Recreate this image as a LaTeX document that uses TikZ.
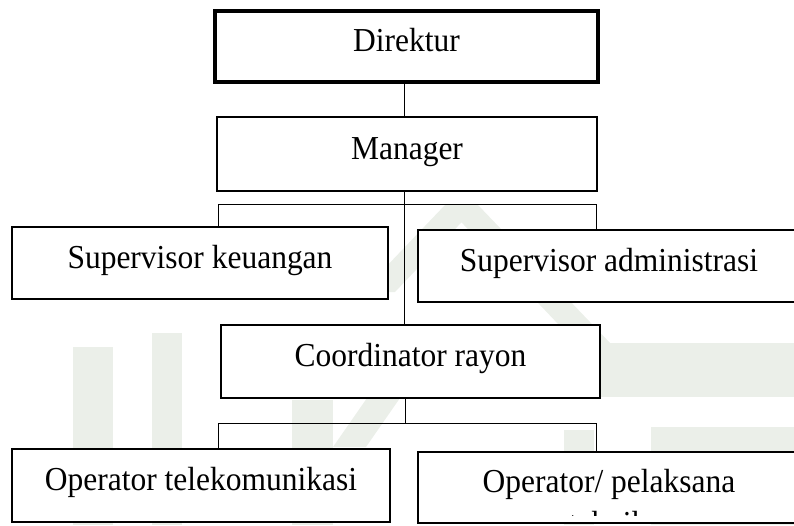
\documentclass[tikz,border=0pt]{standalone}
\usepackage{fontspec}
\setmainfont{Liberation Serif}[FakeStretch=0.94]
\definecolor{wm}{RGB}{235,239,233}
\tikzset{
  orgbox/.style={draw=black, line width=1.6pt, fill=white, rectangle, inner sep=0pt,
    font=\fontsize{33.5}{38}\selectfont, text height=20pt, text depth=10pt},
  topbox/.style={orgbox, line width=3.8pt},
  conn/.style={draw=black, line width=1pt},
  wmark/.style={fill=wm, draw=none}
}
\begin{document}
\begin{tikzpicture}[x=1pt,y=-1pt]
\useasboundingbox (0,0) rectangle (794,525);
% faint watermark
\fill[wmark] (73,347) rectangle (113,525);
\fill[wmark] (152,333) rectangle (182,525);
\fill[wmark] (292,400) rectangle (333,525);
\fill[wmark] (333,447) -- (367,398) -- (400,398) -- (366,447) -- cycle;
\fill[wmark] (445,205) -- (478,205) -- (612,345) -- (578,345) -- cycle;
\fill[wmark] (445,205) -- (478,205) -- (395,292) -- (362,292) -- cycle;
\fill[wmark] (597,343) rectangle (794,397);
\fill[wmark] (651,427) rectangle (794,525);
\fill[wmark] (564,430) rectangle (594,525);
% boxes
\node[topbox, minimum width=383pt, minimum height=71pt] (dir) at (406.5,46.5) {Direktur};
\node[orgbox, minimum width=380pt, minimum height=74pt] (man) at (407,154) {Manager};
\node[orgbox, minimum width=376pt, minimum height=72pt] (keu) at (200,263) {Supervisor keuangan};
\node[orgbox, minimum width=382pt, minimum height=72pt] (adm) at (609,266) {Supervisor administrasi};
\node[orgbox, minimum width=379pt, minimum height=73pt] (coo) at (410.5,361.5) {Coordinator rayon};
\node[orgbox, minimum width=378pt, minimum height=73pt] (tel) at (201,485.5) {Operator telekomunikasi};
\node[orgbox, minimum width=382pt, minimum height=71pt] (pel) at (609,487.5) {Operator/ pelaksana};
\begin{scope}
\clip (420,454) rectangle (799,515);
\node[font=\fontsize{33.5}{38}\selectfont, anchor=base, inner sep=0pt] (tek) at (608,534) {teknik};
\end{scope}
% spine coordinates
\coordinate (sp) at (404.5,0);
\coordinate (sq) at (405.5,0);
\coordinate (b1) at (0,204);
\coordinate (b2) at (0,423);
\coordinate (l1) at (218,0);
\coordinate (r1) at (596,0);
% connectors
\draw[conn] (dir.south -| sp) -- (man.north -| sp);
\draw[conn] (man.south -| sp) -- (coo.north -| sp);
\draw[conn] (l1 |- keu.north) -- (l1 |- b1) -- (r1 |- b1) -- (r1 |- adm.north);
\draw[conn] (coo.south -| sq) -- (sq |- b2);
\draw[conn] (l1 |- tel.north) -- (l1 |- b2) -- (r1 |- b2) -- (r1 |- pel.north);
\end{tikzpicture}
\end{document}
